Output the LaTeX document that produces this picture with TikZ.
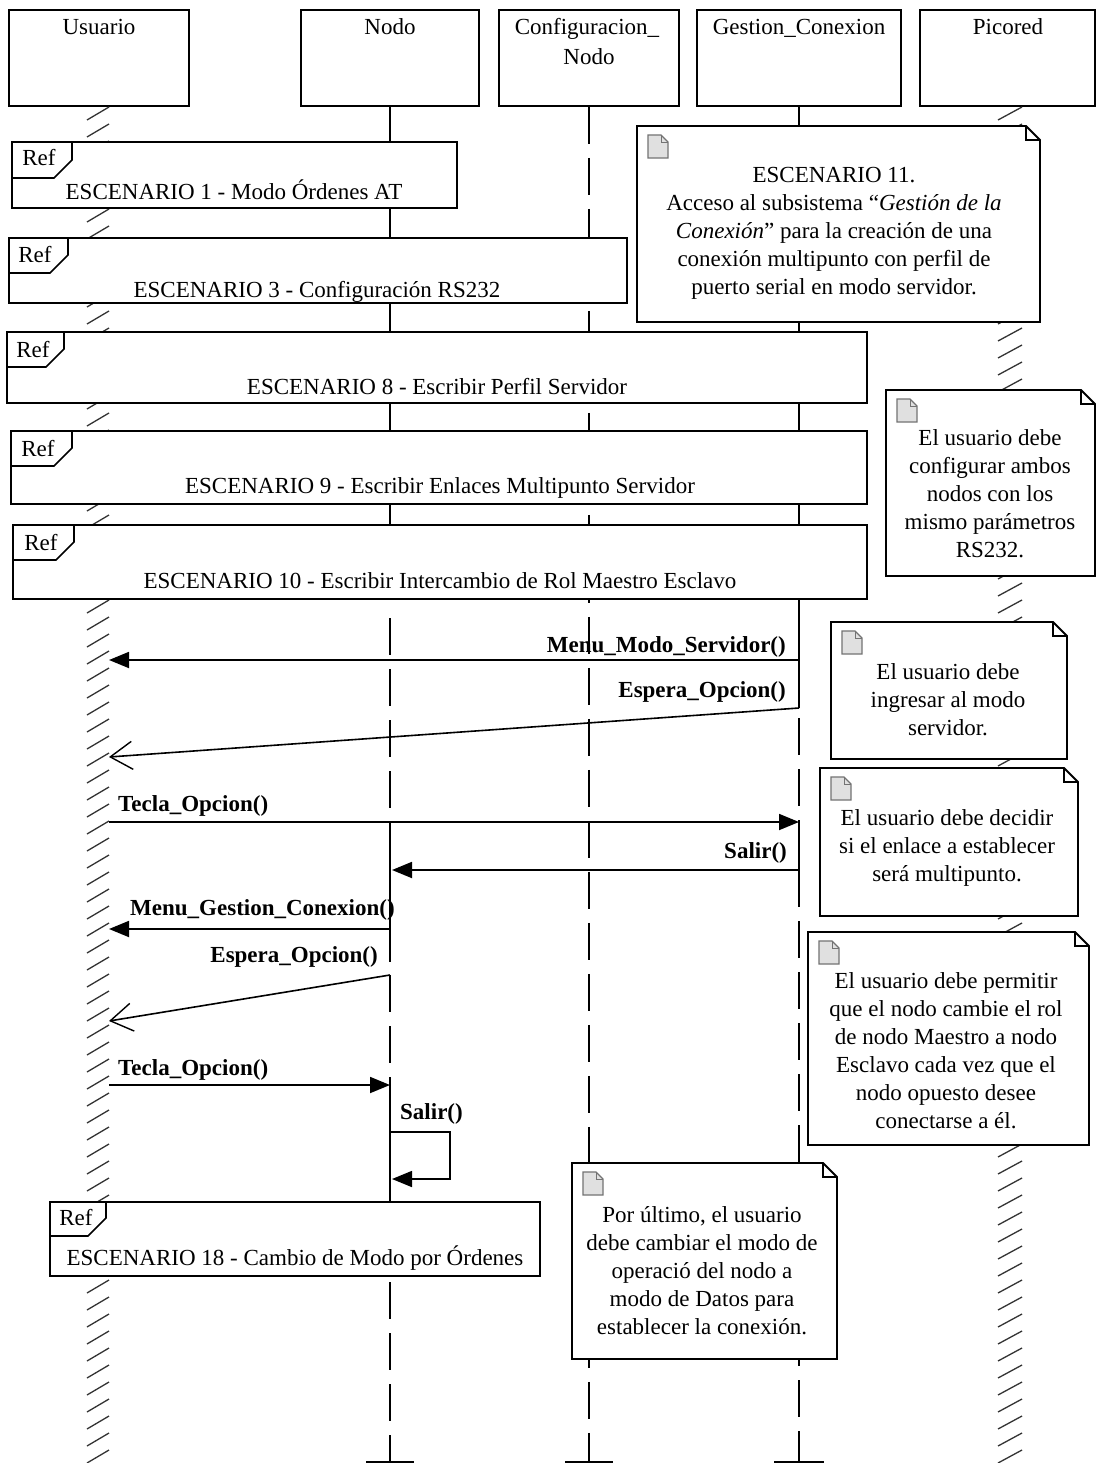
\documentclass[tikz,border=0pt]{standalone}
\usepackage{fontspec}
\setmainfont{Liberation Serif}
\usetikzlibrary{arrows.meta}

\tikzset{
  txt/.style={inner sep=0pt, font=\fontsize{23}{28}\selectfont},
  msgtxt/.style={inner sep=0pt, font=\fontsize{23}{28}\selectfont\bfseries},
  frame/.style={draw=black, line width=1.8pt, fill=white},
  foldline/.style={draw=black, line width=1.6pt},
  headbox/.style={draw=black, line width=1.8pt, fill=white, inner sep=0pt, minimum height=96pt},
  lifesolid/.style={draw=black, line width=2pt},
  lifedash/.style={draw=black, line width=2pt, dash pattern=on 37pt off 14pt},
  hatchline/.style={draw=black!80, line width=1.3pt},
  sync/.style={draw=black, line width=1.8pt, -{Triangle[length=20pt,width=16pt]}},
  async/.style={draw=black, line width=1.6pt, -{Straight Barb[length=22pt,width=28pt,line width=1.4pt]}},
  docicon/.style={draw=black!55, fill=black!12, line width=1.2pt},
}

% UML note with folded corner and document icon: x1 y1 x2 y2
\newcommand{\umlnote}[4]{%
  \path[frame] (#1,#2) -- (#3-14,#2) -- (#3,#2+14) -- (#3,#4) -- (#1,#4) -- cycle;
  \draw[foldline] (#3-14,#2) -- (#3-14,#2+14) -- (#3,#2+14);
  \path[docicon] (#1+11,#2+9) -- (#1+24,#2+9) -- (#1+31,#2+16) -- (#1+31,#2+32) -- (#1+11,#2+32) -- cycle;
  \draw[draw=black!55, line width=0.8pt] (#1+24,#2+9) -- (#1+24,#2+16) -- (#1+31,#2+16);
}
% Interaction-use frame with "Ref" tab: x1 y1 x2 y2 tab-right tab-bottom
\newcommand{\umlref}[6]{%
  \path[frame] (#1,#2) rectangle (#3,#4);
  \draw[foldline] (#1,#6) -- (#5-18,#6) -- (#5,#6-18) -- (#5,#2);
}

\begin{document}
\begin{tikzpicture}[x=1pt,y=-1pt]
\useasboundingbox (0,0) rectangle (1096,1463);
\fill[white] (0,0) rectangle (1096,1463);

% ---------- lifeline heads ----------
\node[headbox, minimum width=180pt] (usr) at (99,58) {};
\node[headbox, minimum width=178pt] (nodo) at (390,58) {};
\node[headbox, minimum width=180pt] (conf) at (589,58) {};
\node[headbox, minimum width=204pt] (gest) at (799,58) {};
\node[headbox, minimum width=175pt] (pico) at (1007.5,58) {};
\node[txt, anchor=base] (usrt) at (99,35) {Usuario};
\node[txt, anchor=base] (nodot) at (390,35) {Nodo};
\node[txt, anchor=base] (conft) at (587,35) {Configuracion\_};
\node[txt, anchor=base] (conft2) at (589,65) {Nodo};
\node[txt, anchor=base] (gestt) at (799,35) {Gestion\_Conexion};
\node[txt, anchor=base] (picot) at (1008,35) {Picored};

% ---------- lifelines ----------
\foreach \y in {107,124,...,1463} \draw[hatchline] (87,\y+13) -- (109,\y);
\foreach \y in {107,124,...,1463} \draw[hatchline] (998,\y+13) -- (1022,\y);

\draw[lifesolid] (nodo.south) -- (390,600);
\draw[lifedash] (390,618) -- (390,823);
\draw[lifesolid] (390,823) -- (390,962);
\draw[lifedash] (390,975) -- (390,1078);
\draw[lifesolid] (390,1078) -- (390,1202);
\draw[lifedash] (390,1282) -- (390,1462);
\draw[lifesolid] (366,1462) -- (414,1462);

\draw[lifedash] (conf.south) -- (589,1462);
\draw[lifesolid] (565,1462) -- (613,1462);

\draw[lifesolid] (gest.south) -- (799,708);
\draw[lifedash] (799,718) -- (799,822);
\draw[lifesolid] (799,822) -- (799,870);
\draw[lifedash] (799,870) -- (799,1462);
\draw[lifesolid] (774,1462) -- (824,1462);

% ---------- interaction uses ----------
\umlref{12}{142}{457}{208}{72}{178}
\node[txt, anchor=base] (r1tag) at (39,166) {Ref};
\node[txt, anchor=base] (r1) at (234,200) {ESCENARIO 1 - Modo Órdenes AT};

\umlref{9}{238}{627}{303}{68}{273}
\node[txt, anchor=base] (r3tag) at (35,262) {Ref};
\node[txt, anchor=base] (r3) at (317,297) {ESCENARIO 3 - Configuración RS232};

\umlref{7}{332}{867}{403}{64}{367}
\node[txt, anchor=base] (r8tag) at (33,357) {Ref};
\node[txt, anchor=base] (r8) at (437,394) {ESCENARIO 8 - Escribir Perfil Servidor};

\umlref{11}{431}{867}{504}{72}{466}
\node[txt, anchor=base] (r9tag) at (38,456) {Ref};
\node[txt, anchor=base] (r9) at (440,493) {ESCENARIO 9 - Escribir Enlaces Multipunto Servidor};

\umlref{13}{525}{867}{599}{74}{560}
\node[txt, anchor=base] (r10tag) at (41,550) {Ref};
\node[txt, anchor=base] (r10) at (440,588) {ESCENARIO 10 - Escribir Intercambio de Rol Maestro Esclavo};

% ---------- notes ----------
\umlnote{637}{126}{1040}{322}
\node[txt, align=center, anchor=north] (n11) at (834,167.5) {ESCENARIO 11.\\
Acceso al subsistema “\textit{Gestión de la}\\
\textit{Conexión}” para la creación de una\\
conexión multipunto con perfil de\\
puerto serial en modo servidor.};

\umlnote{886}{390}{1095}{576}
\node[txt, align=center, anchor=north] (nrs) at (990,429.5) {El usuario debe\\
configurar ambos\\
nodos con los\\
mismo parámetros\\
RS232.};

\umlnote{831}{622}{1067}{759}
\node[txt, align=center, anchor=north] (nsrv) at (948,663.5) {El usuario debe\\
ingresar al modo\\
servidor.};

\umlnote{820}{768}{1078}{916}
\node[txt, align=center, anchor=north] (nmul) at (947,809.5) {El usuario debe decidir\\
si el enlace a establecer\\
será multipunto.};

\umlnote{808}{932}{1089}{1145}
\node[txt, align=center, anchor=north] (nrol) at (946,972.5) {El usuario debe permitir\\
que el nodo cambie el rol\\
de nodo Maestro a nodo\\
Esclavo cada vez que el\\
nodo opuesto desee\\
conectarse a él.};

\umlnote{572}{1163}{837}{1359}
\node[txt, align=center, anchor=north] (nfin) at (702,1206) {Por último, el usuario\\
debe cambiar el modo de\\
operació del nodo a\\
modo de Datos para\\
establecer la conexión.};

% ---------- messages ----------
\coordinate (g660) at (799,660);  \coordinate (u660) at (109,660);
\coordinate (g708) at (799,708);  \coordinate (u757) at (109,757);
\coordinate (u822) at (109,822);  \coordinate (g822) at (799,822);
\coordinate (g870) at (799,870);  \coordinate (n870) at (392,870);
\coordinate (n929) at (390,929);  \coordinate (u929) at (109,929);
\coordinate (n975) at (390,975);  \coordinate (u1021) at (109,1021);
\coordinate (u1085) at (109,1085); \coordinate (n1085) at (390,1085);
\coordinate (sA) at (390,1132); \coordinate (sB) at (450,1132);
\coordinate (sC) at (450,1179); \coordinate (sD) at (392,1179);

\draw[sync] (g660) -- (u660);
\node[msgtxt, anchor=base east] (m1) at (786,652) {Menu\_Modo\_Servidor()};

\draw[async] (g708) -- (u757);
\node[msgtxt, anchor=base east] (m2) at (786,697) {Espera\_Opcion()};

\draw[sync] (u822) -- (g822);
\node[msgtxt, anchor=base west] (m3) at (118,811) {Tecla\_Opcion()};

\draw[sync] (g870) -- (n870);
\node[msgtxt, anchor=base east] (m4) at (787,858) {Salir()};

\draw[sync] (n929) -- (u929);
\node[msgtxt, anchor=base west] (m5) at (130,915) {Menu\_Gestion\_Conexion()};

\draw[async] (n975) -- (u1021);
\node[msgtxt, anchor=base east] (m6) at (378,962) {Espera\_Opcion()};

\draw[sync] (u1085) -- (n1085);
\node[msgtxt, anchor=base west] (m7) at (118,1075) {Tecla\_Opcion()};

\draw[sync, line width=1.6pt] (sA) -- (sB) -- (sC) -- (sD);
\node[msgtxt, anchor=base west] (m8) at (400,1119) {Salir()};

% ---------- final interaction use ----------
\umlref{50}{1202}{540}{1276}{106}{1236}
\node[txt, anchor=base] (r18tag) at (76,1225) {Ref};
\node[txt, anchor=base] (r18) at (295,1265) {ESCENARIO 18 - Cambio de Modo por Órdenes};
\end{tikzpicture}
\end{document}
